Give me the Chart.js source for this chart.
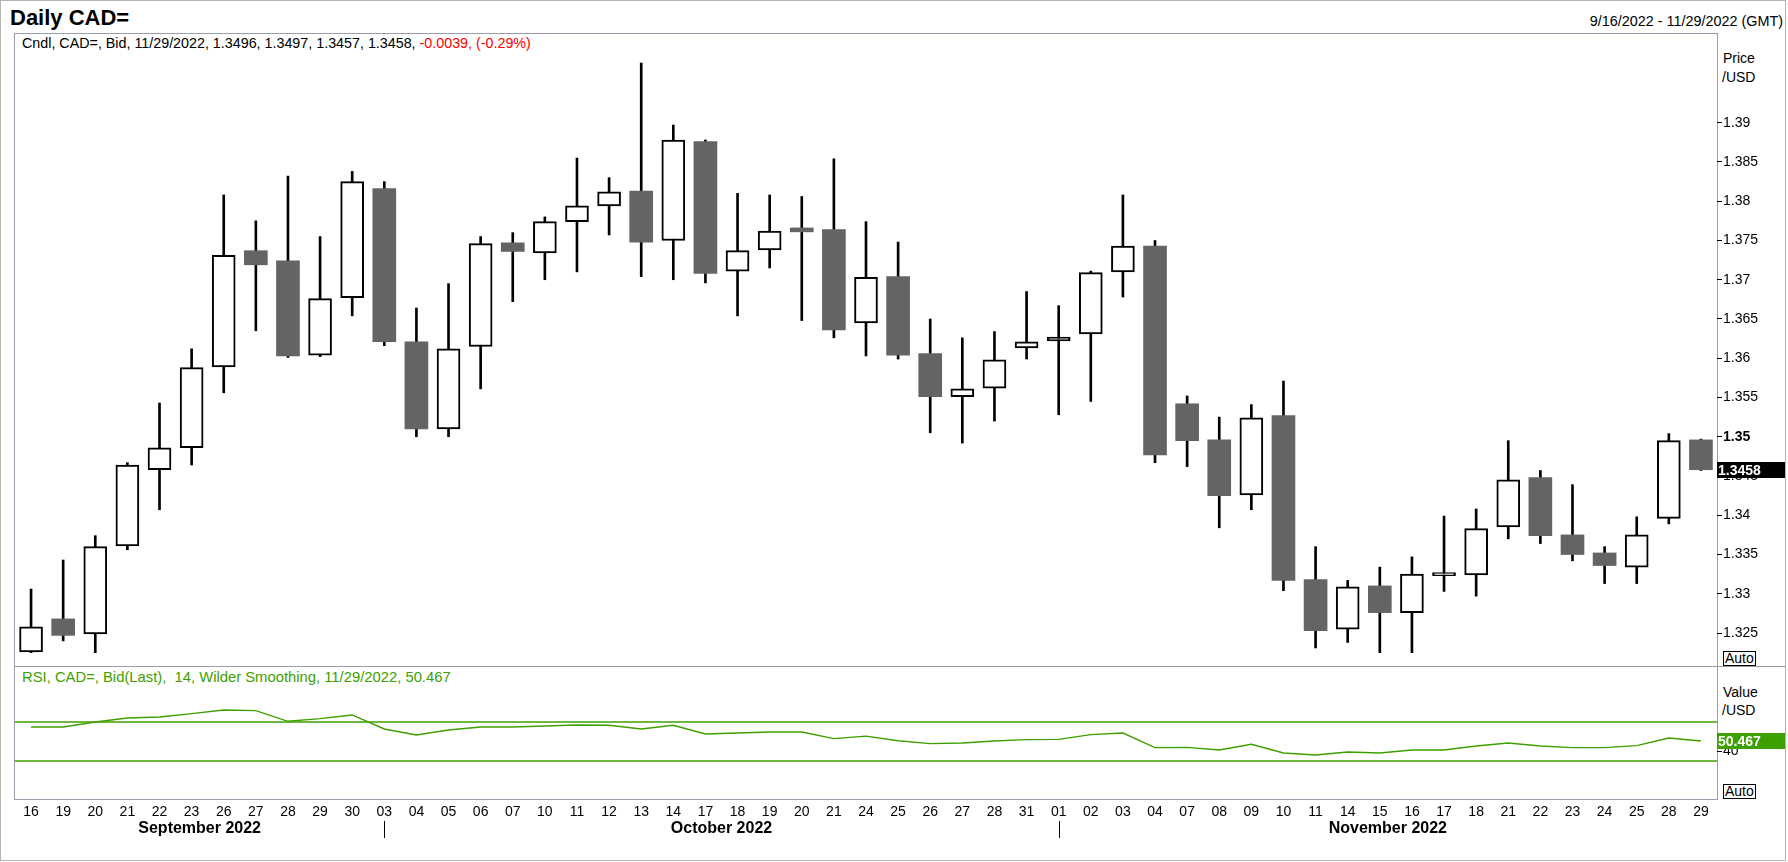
<!DOCTYPE html>
<html>
<head>
<meta charset="utf-8">
<title>Daily CAD=</title>
<script src="https://cdn.jsdelivr.net/npm/chart.js@4.4.0/dist/chart.umd.min.js"></script>
<style>
  body { margin: 0; background: #fff; font-family: "Liberation Sans", Arial, sans-serif; }
  #page { position: relative; width: 1788px; height: 862px; overflow: hidden; background: #fff; }
  .txt { position: absolute; white-space: pre; font-size: 14px; line-height: 17px; color: #000; }
  .line { position: absolute; background: #9c9cac; }
  .auto { position: absolute; border: 1px solid #000; font-size: 14px; line-height: 13px; height: 13px; padding: 0 1px; }
  canvas { position: absolute; left: 0; }
</style>
</head>
<body>
<div id="page">
  <!-- outer frame -->
  <div style="position:absolute;left:0;top:0;width:1786px;height:861px;border:1px solid #b4b4b4;box-sizing:border-box;"></div>
  <!-- plot frame + panel separator -->
  <div style="position:absolute;left:14px;top:33px;width:1704px;height:767px;border:1px solid #9c9cac;box-sizing:border-box;"></div>
  <div class="line" style="left:14px;top:666px;width:1772px;height:1px;"></div>

  <div class="txt" style="left:10px;top:5px;font-size:22px;line-height:25px;font-weight:bold;">Daily CAD=</div>
  <div class="txt" style="right:5px;top:13px;font-size:14.4px;">9/16/2022 - 11/29/2022 (GMT)</div>
  <div class="txt" style="left:22px;top:35px;font-size:14.3px;">Cndl, CAD=, Bid, 11/29/2022, 1.3496, 1.3497, 1.3457, 1.3458, <span style="color:#ff0000">-0.0039, (-0.29%)</span></div>
  <div class="txt" style="left:22px;top:669px;font-size:14.8px;color:#3ea000;">RSI, CAD=, Bid(Last),  14, Wilder Smoothing, 11/29/2022, 50.467</div>

  <div class="txt" style="left:1723px;top:50px;">Price</div>
  <div class="txt" style="left:1722px;top:69px;">/USD</div>
  <div class="auto" style="left:1723px;top:651px;">Auto</div>

  <div class="txt" style="left:1723px;top:684px;">Value</div>
  <div class="txt" style="left:1722px;top:702px;">/USD</div>
  <div class="auto" style="left:1723px;top:784px;">Auto</div>

  <canvas id="priceChart" width="1788" height="667" style="top:0;"></canvas>
  <canvas id="rsiChart" width="1788" height="195" style="top:667px;"></canvas>
</div>

<script>
const days = ['16','19','20','21','22','23','26','27','28','29','30',
  '03','04','05','06','07','10','11','12','13','14','17','18','19','20','21','24','25','26','27','28','31',
  '01','02','03','04','07','08','09','10','11','14','15','16','17','18','21','22','23','24','25','28','29'];

const monthNames = ['September 2022', 'October 2022', 'November 2022'];
const monthStarts = [0, 11, 32];

const opens = [1.3226, 1.3268, 1.3249, 1.3361, 1.3458, 1.3486, 1.3589, 1.3737, 1.3724, 1.3604, 1.3677,
  1.3816, 1.3621, 1.3510, 1.3615, 1.3747, 1.3734, 1.3774, 1.3794, 1.3813, 1.3750, 1.3876, 1.3711, 1.3738,
  1.3766, 1.3764, 1.3645, 1.3704, 1.3606, 1.3551, 1.3562, 1.3613,
  1.3622, 1.3631, 1.3710, 1.3743, 1.3542, 1.3496, 1.3426, 1.3527, 1.3318, 1.3255, 1.3310, 1.3276, 1.3323,
  1.3324, 1.3385, 1.3448, 1.3375, 1.3352, 1.3334, 1.3396, 1.3496];
const highs = [1.3306, 1.3343, 1.3374, 1.3467, 1.3543, 1.3612, 1.3808, 1.3775, 1.3832, 1.3755, 1.3838,
  1.3825, 1.3664, 1.3695, 1.3755, 1.3760, 1.3780, 1.3855, 1.3830, 1.3976, 1.3897, 1.3878, 1.3810, 1.3808,
  1.3806, 1.3854, 1.3774, 1.3748, 1.3650, 1.3626, 1.3634, 1.3685,
  1.3667, 1.3711, 1.3808, 1.3750, 1.3552, 1.3525, 1.3541, 1.3571, 1.3360, 1.3317, 1.3334, 1.3347, 1.3399,
  1.3408, 1.3495, 1.3457, 1.3439, 1.3360, 1.3398, 1.3504, 1.3497];
const lows = [1.3225, 1.3240, 1.3225, 1.3356, 1.3407, 1.3464, 1.3556, 1.3635, 1.3601, 1.3602, 1.3654,
  1.3616, 1.3500, 1.3500, 1.3561, 1.3672, 1.3700, 1.3710, 1.3757, 1.3704, 1.3700, 1.3696, 1.3654, 1.3715,
  1.3648, 1.3626, 1.3603, 1.3599, 1.3505, 1.3492, 1.3520, 1.3599,
  1.3528, 1.3545, 1.3678, 1.3467, 1.3462, 1.3384, 1.3407, 1.3304, 1.3231, 1.3238, 1.3225, 1.3225, 1.3303,
  1.3297, 1.3370, 1.3364, 1.3342, 1.3313, 1.3313, 1.3389, 1.3457];
const closes = [1.3258, 1.3247, 1.3360, 1.3464, 1.3486, 1.3588, 1.3731, 1.3719, 1.3603, 1.3676, 1.3825,
  1.3621, 1.3510, 1.3612, 1.3746, 1.3736, 1.3774, 1.3794, 1.3812, 1.3748, 1.3878, 1.3708, 1.3737, 1.3762,
  1.3761, 1.3636, 1.3703, 1.3604, 1.3551, 1.3561, 1.3598, 1.3621,
  1.3627, 1.3709, 1.3743, 1.3477, 1.3495, 1.3425, 1.3524, 1.3317, 1.3253, 1.3309, 1.3276, 1.3325, 1.3327,
  1.3383, 1.3445, 1.3374, 1.3350, 1.3336, 1.3375, 1.3495, 1.3458];

const rsi = [64.9, 64.9, 70.0, 74.1, 75.1, 78.6, 82.3, 81.6, 70.7, 73.4, 77.2,
  62.8, 56.7, 61.8, 64.9, 64.9, 65.9, 66.9, 66.6, 62.8, 66.6, 57.7, 58.7, 59.7, 59.7, 52.9, 55.5, 50.8,
  47.8, 48.5, 50.5, 51.9,
  52.2, 57.0, 58.7, 43.7, 44.0, 41.3, 47.1, 38.2, 36.1, 39.2, 38.2, 41.3, 41.3, 45.4, 48.5, 45.4, 43.7,
  43.7, 45.7, 53.6, 50.467];
const rsiLevels = [30, 70];

const priceTicks = [1.325, 1.33, 1.335, 1.34, 1.345, 1.35, 1.355, 1.36, 1.365, 1.37, 1.375, 1.38, 1.385, 1.39];
const rsiTicks = [40];

const FONT = '"Liberation Sans", Arial, sans-serif';
const GREEN = '#3ea000';
const GRAY = '#646464';

Chart.defaults.font.family = FONT;
Chart.defaults.font.size = 14;
Chart.defaults.color = '#000';

// tag with the last value, sitting on the right axis
const lastValueTag = {
  id: 'lastValueTag',
  afterDraw(chart, args, opts) {
    const { ctx, chartArea, scales } = chart;
    const y = Math.round(scales.y.getPixelForValue(opts.value));
    ctx.save();
    ctx.fillStyle = opts.bg;
    ctx.fillRect(chartArea.right, y - 8, chart.width - 3 - chartArea.right, 16);
    ctx.fillStyle = '#fff';
    ctx.font = 'bold 14px ' + FONT;
    ctx.textBaseline = 'middle';
    ctx.fillText(opts.text, chartArea.right + 1, y + 1);
    ctx.restore();
  }
};

const levelLines = {
  id: 'levelLines',
  beforeDatasetsDraw(chart) {
    const { ctx, chartArea, scales } = chart;
    ctx.save();
    ctx.strokeStyle = GREEN;
    ctx.lineWidth = 1.5;
    rsiLevels.forEach(v => {
      const y = scales.y.getPixelForValue(v);
      ctx.beginPath();
      ctx.moveTo(chartArea.left, y);
      ctx.lineTo(chartArea.right, y);
      ctx.stroke();
    });
    ctx.restore();
  }
};

const monthLabels = {
  id: 'monthLabels',
  afterDraw(chart) {
    const { ctx, chartArea, scales: { x } } = chart;
    ctx.save();
    ctx.font = 'bold 16px ' + FONT;
    ctx.textAlign = 'center';
    ctx.textBaseline = 'middle';
    ctx.fillStyle = '#000';
    ctx.strokeStyle = '#000';
    ctx.lineWidth = 1;
    monthNames.forEach((name, k) => {
      const start = k === 0 ? chartArea.left : x.getPixelForValue(monthStarts[k]);
      const end = k === monthNames.length - 1 ? chartArea.right : x.getPixelForValue(monthStarts[k + 1]);
      ctx.fillText(name, (start + end) / 2, chartArea.bottom + 30);
      if (k > 0) {
        const sx = Math.round(start) + 0.5;
        ctx.beginPath();
        ctx.moveTo(sx, chartArea.bottom + 22);
        ctx.lineTo(sx, chartArea.bottom + 39);
        ctx.stroke();
      }
    });
    ctx.restore();
  }
};

const upDown = opens.map((o, i) => closes[i] >= o);
const isBold = c => !!(c && c.tick && Math.abs(c.tick.value - 1.35) < 1e-9);
// keep the chart area exactly where the frame is (no extra room for end labels)
const fitRight = s => { s.width = 68; s.paddingTop = 0; s.paddingBottom = 0; };

new Chart(document.getElementById('priceChart'), {
  type: 'bar',
  data: {
    labels: days,
    datasets: [
      {
        label: 'wick',
        data: lows.map((l, i) => [l, highs[i]]),
        backgroundColor: '#000',
        barThickness: 2,
        grouped: false,
        order: 2
      },
      {
        label: 'body',
        data: opens.map((o, i) => [o, closes[i]]),
        backgroundColor: upDown.map(u => u ? '#fff' : GRAY),
        borderColor: upDown.map(u => u ? '#000' : GRAY),
        borderWidth: upDown.map(u => u ? 2 : 0),
        borderSkipped: false,
        barThickness: 23,
        grouped: false,
        order: 1
      }
    ]
  },
  options: {
    responsive: false,
    animation: false,
    devicePixelRatio: 1,
    layout: { padding: { left: 15, top: 34, right: 3, bottom: 1 } },
    scales: {
      x: { display: false, offset: true },
      y: {
        position: 'right',
        min: 1.3208,
        max: 1.4013,
        afterFit: fitRight,
        afterBuildTicks: s => { s.ticks = priceTicks.map(v => ({ value: v })); },
        border: { display: false },
        grid: { drawOnChartArea: false, drawTicks: true, tickLength: 5, tickColor: '#000', color: '#000' },
        ticks: {
          padding: 1,
          color: '#000',
          callback: v => String(+Number(v).toFixed(3)),
          font: c => ({ size: 14, weight: isBold(c) ? 'bold' : 'normal' })
        }
      }
    },
    plugins: {
      legend: { display: false },
      tooltip: { enabled: false },
      lastValueTag: { value: closes[closes.length - 1], text: closes[closes.length - 1].toFixed(4), bg: '#000' }
    }
  },
  plugins: [lastValueTag]
});

new Chart(document.getElementById('rsiChart'), {
  type: 'line',
  data: {
    labels: days,
    datasets: [{
      label: 'RSI',
      data: rsi,
      borderColor: GREEN,
      borderWidth: 1.4,
      pointRadius: 0,
      tension: 0,
      fill: false
    }]
  },
  options: {
    responsive: false,
    animation: false,
    devicePixelRatio: 1,
    layout: { padding: { left: 15, top: 0, right: 3, bottom: 0 } },
    scales: {
      x: {
        offset: true,
        afterFit: s => { s.height = 63; },
        grid: { display: false, drawTicks: false },
        border: { display: false },
        ticks: { autoSkip: false, maxRotation: 0, padding: 5, color: '#000', font: { size: 14 } }
      },
      y: {
        position: 'right',
        min: -9,
        max: 126.4,
        afterFit: fitRight,
        afterBuildTicks: s => { s.ticks = rsiTicks.map(v => ({ value: v })); },
        border: { display: false },
        grid: { drawOnChartArea: false, drawTicks: true, tickLength: 5, tickColor: '#000', color: '#000' },
        ticks: { padding: 1, color: '#000', font: { size: 14 } }
      }
    },
    plugins: {
      legend: { display: false },
      tooltip: { enabled: false },
      lastValueTag: { value: rsi[rsi.length - 1], text: rsi[rsi.length - 1].toFixed(3), bg: GREEN }
    }
  },
  plugins: [levelLines, monthLabels, lastValueTag]
});
</script>
</body>
</html>
